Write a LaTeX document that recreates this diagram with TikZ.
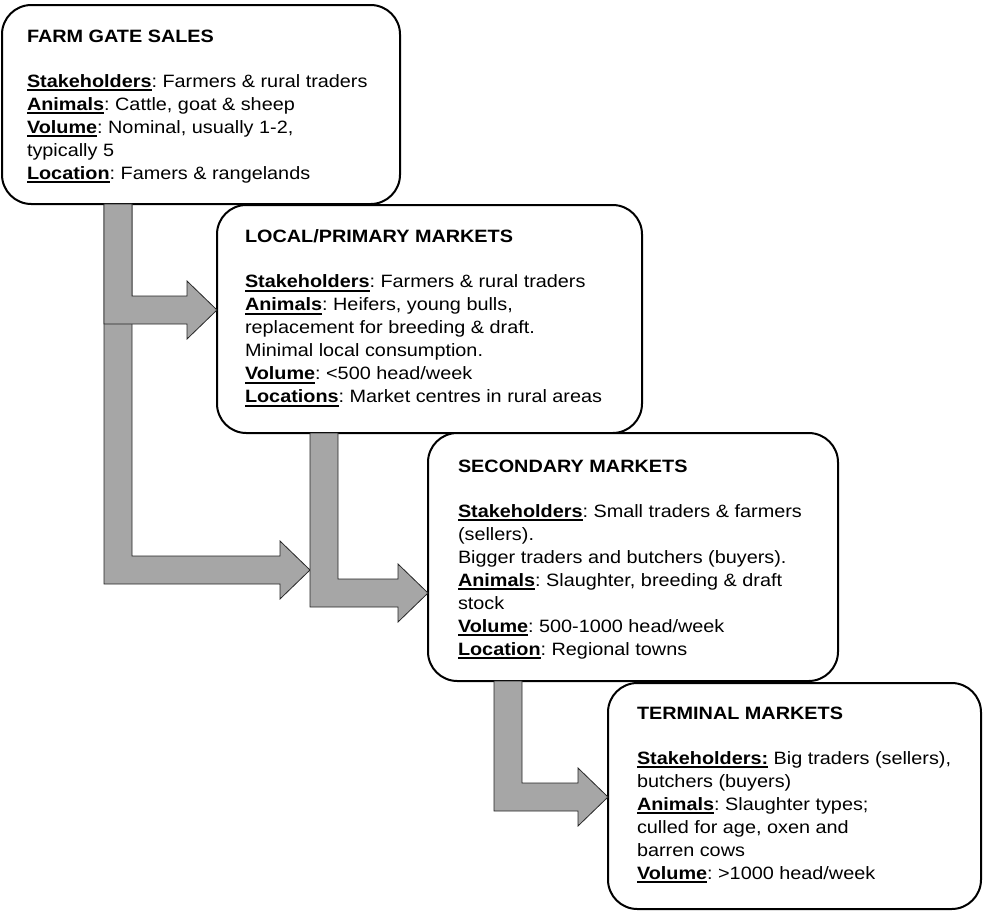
\documentclass[tikz,border=0pt]{standalone}
\usepackage{fontspec}
\setmainfont{Liberation Sans}[FakeStretch=1.11]
\usepackage{xcolor}
\usepackage{tikz}
\usetikzlibrary{calc}

\definecolor{arrowgray}{RGB}{166,166,166}
\newcommand{\pxu}{0.75pt}
\newcommand{\fieldname}[1]{\setbox0=\hbox{\bfseries #1}\rlap{\rule[-2.7pt]{\wd0}{1.3pt}}{\box0}}
% bent block arrow: source, tip x coordinate, shaft x coordinate, tip y
\newcommand{\bentarrow}[4]{%
  \coordinate (tip) at (#2 |- 0,#4);
  \draw[flowarrow] (#3 |- #1.south) -- ++(28,0) |- ($(tip)+(-30,-14)$) -- ++(0,-15) -- (tip)
    -- ++(-30,29) -- ++(0,-15) -| (#3 |- #1.south) -- cycle;
}

\begin{document}
\frenchspacing
\begin{tikzpicture}[
    x=0.75pt, y=-0.75pt,
    every node/.style={inner sep=0pt, outer sep=0pt},
    stagebox/.style={draw, line width=1.5pt, fill=white, rounded corners=22pt, anchor=north west},
    stagetext/.style={anchor=north west, align=left, font=\fontsize{13.4}{17.25}\selectfont},
    flowarrow/.style={draw=black!85, line width=0.6pt, fill=arrowgray},
]
\useasboundingbox (0,0) rectangle (983,911);

% Boxes
\node[stagebox, minimum width=398*\pxu, minimum height=199*\pxu] (farm) at (2,5) {};
\node[stagebox, minimum width=425*\pxu, minimum height=228*\pxu] (local) at (217,205) {};
\node[stagebox, minimum width=410*\pxu, minimum height=248*\pxu] (secondary) at (428,433) {};
\node[stagebox, minimum width=373*\pxu, minimum height=226*\pxu] (terminal) at (608,683) {};

% Farm gate sales
\node[stagetext] (farmtext) at ($(farm.north west)+(25,25)$) {\textbf{FARM GATE SALES}\\[16.5pt]
\fieldname{Stakeholders}: Farmers \& rural traders\\
\fieldname{Animals}: Cattle, goat \& sheep\\
\fieldname{Volume}: Nominal, usually 1-2,\\
typically 5\\
\fieldname{Location}: Famers \& rangelands};

% Local/primary markets
\node[stagetext] (localtext) at ($(local.north west)+(28,25)$) {\textbf{LOCAL/PRIMARY MARKETS}\\[16.5pt]
\fieldname{Stakeholders}: Farmers \& rural traders\\
\fieldname{Animals}: Heifers, young bulls,\\
replacement for breeding \& draft.\\
Minimal local consumption.\\
\fieldname{Volume}: <500 head/week\\
\fieldname{Locations}: Market centres in rural areas};

% Secondary markets
\node[stagetext] (secondarytext) at ($(secondary.north west)+(30,27)$) {\textbf{SECONDARY MARKETS}\\[16.5pt]
\fieldname{Stakeholders}: Small traders \& farmers\\
(sellers).\\
Bigger traders and butchers (buyers).\\
\fieldname{Animals}: Slaughter, breeding \& draft\\
stock\\
\fieldname{Volume}: 500-1000 head/week\\
\fieldname{Location}: Regional towns};

% Terminal markets
\node[stagetext] (terminaltext) at ($(terminal.north west)+(29,24)$) {\textbf{TERMINAL MARKETS}\\[16.5pt]
\fieldname{Stakeholders:} Big traders (sellers),\\
butchers (buyers)\\
\fieldname{Animals}: Slaughter types;\\
culled for age, oxen and\\
barren cows\\
\fieldname{Volume}: >1000 head/week};

% Arrows
\coordinate (farmdrop) at (104,0);
\coordinate (localdrop) at (310,0);
\coordinate (secondarydrop) at (494,0);
\bentarrow{farm}{localdrop}{farmdrop}{570}
\bentarrow{farm}{local.west}{farmdrop}{310}
\bentarrow{local}{secondary.west}{localdrop}{593}
\bentarrow{secondary}{terminal.west}{secondarydrop}{797}

\end{tikzpicture}
\end{document}
